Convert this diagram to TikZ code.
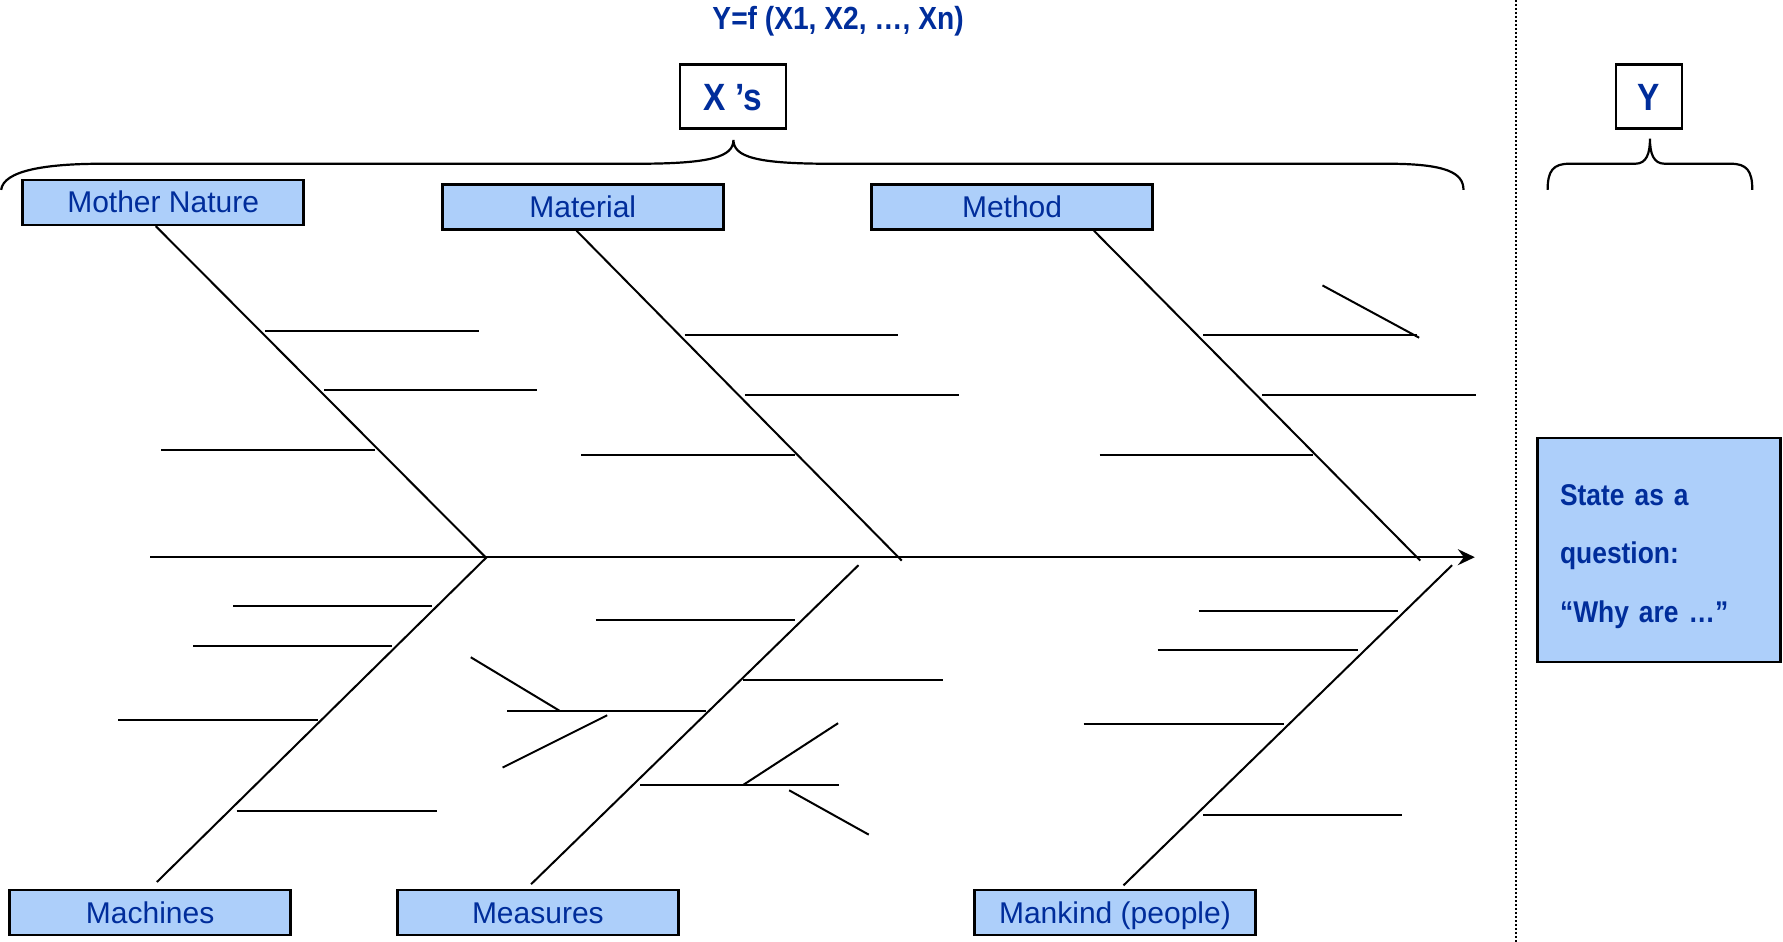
\documentclass[tikz,border=0pt]{standalone}
\usepackage{fontspec}
\setmainfont{Liberation Sans}
\newfontfamily\labfont{Liberation Sans}
\newfontfamily\headfont[FakeStretch=0.88]{Liberation Sans}
\usetikzlibrary{arrows.meta,calc}
\definecolor{textblue}{RGB}{0,45,155}
\definecolor{boxblue}{RGB}{173,207,250}
\tikzset{
  cause/.style={draw, line width=2.5pt, fill=boxblue, text=textblue,
    font=\labfont\fontsize{30}{36}\selectfont, inner sep=0pt,
    minimum width=281pt, minimum height=45pt, text height=26pt, text depth=5pt},
  keybox/.style={draw, line width=2.5pt, fill=white, text=textblue,
    font=\headfont\bfseries\fontsize{38}{44}\selectfont, inner sep=0pt,
    minimum height=64pt, text height=31pt, text depth=4pt},
  statebox/.style={draw, line width=2.5pt, fill=boxblue, text=textblue,
    font=\headfont\bfseries\fontsize{30}{58.5}\selectfont, inner sep=0pt,
    minimum width=243pt, minimum height=224pt, align=left, text width=198pt},
  title/.style={text=textblue, font=\headfont\bfseries\fontsize{32}{38}\selectfont},
  bone/.style={line width=2pt},
  spine/.style={line width=2.5pt, -{Stealth[length=17pt,width=16pt,inset=6pt]}},
  brace/.style={line width=2.2pt},
  divider/.style={line width=2pt, dash pattern=on 2pt off 2pt}
}
\begin{document}
\begin{tikzpicture}[x=1.1371pt, y=-1.1371pt]
\useasboundingbox (0,0) rectangle (1568,828);

% divider between the causes and the effect
\draw[divider] (1333,0) -- (1333,828);

% heading and the two key boxes
\node[title] (fx) at (737,18.5) {Y=f (X1, X2, …, Xn)};
\node[keybox, minimum width=106pt] (xs) at (644.5,85) {X ’s};
\node[keybox, minimum width=66pt] (ys) at (1450,85) {Y};

% braces under the key boxes
\draw[brace] (1,167) .. controls (3,150) and (40,144) .. (90,144) -- (560,144)
  .. controls (625,144) and (645,138) .. (645,123)
  .. controls (645,138) and (665,144) .. (730,144) -- (1220,144)
  .. controls (1272,144) and (1287,152) .. (1287,167);
\draw[brace] (1361,167) .. controls (1361,150) and (1366,144) .. (1380,144) -- (1438,144)
  .. controls (1448,144) and (1451,135) .. (1451,122)
  .. controls (1451,135) and (1454,144) .. (1464,144) -- (1522,144)
  .. controls (1536,144) and (1541,150) .. (1541,167);

% effect box (the strut on the first line sets the text block a little lower)
\node[statebox] (q) at (1459,483.5) {\rule{0pt}{34pt}State as a\\question:\\“Why are …”};

% cause categories
\node[cause] (mn) at (143.5,178) {Mother Nature};
\node[cause] (mt) at (512.5,182) {Material};
\node[cause] (me) at (890,182) {Method};
\node[cause] (mc) at (132,802.5) {Machines};
\node[cause] (ms) at (473,802.5) {Measures};
\node[cause] (mk) at (980.5,802.5) {Mankind (people)};

% spine
\coordinate (s0) at (132,490);
\coordinate (s1) at (1297,490);
\draw[spine] (s0) -- (s1);

% main bones
\coordinate (j1) at (427,490);
\coordinate (j2) at (793,493);
\coordinate (j3) at (1249,493);
\coordinate (j4) at (428,490);
\coordinate (j5) at (755,497);
\coordinate (j6) at (1277,497);
\draw[bone] ($(mn.south)+(-6.5,0)$) -- (j1);
\draw[bone] ($(mt.south)+(-5.5,0)$) -- (j2);
\draw[bone] ($(me.south)+(72,0)$) -- (j3);
\draw[bone] ($(mc.north)+(6,-6)$) -- (j4);
\draw[bone] ($(ms.north)+(-6,-4)$) -- (j5);
\draw[bone] ($(mk.north)+(7.5,-3)$) -- (j6);

% sub-causes above the spine
\foreach \a/\b/\c/\d in {
  233/291/421/291, 285/343/472/343, 142/396/330/396,
  602/295/790/295, 655/347/843/347, 511/400/699/400,
  1058/295/1246/295, 1110/347/1298/347, 967/400/1155/400,
  1163/251/1248/297}
  \draw[bone] (\a,\b) -- (\c,\d);

% sub-causes below the spine
\foreach \a/\b/\c/\d in {
  205/533/380/533, 170/568/345/568, 104/633/280/633, 208/713/384/713,
  524/545/699/545, 653/598/829/598, 446/625/621/625, 563/690/738/690,
  414/578/492/625, 534/629/442/675, 654/690/737/636, 694/695/764/734,
  1054/537/1229/537, 1018/572/1194/572, 953/637/1129/637, 1058/717/1233/717}
  \draw[bone] (\a,\b) -- (\c,\d);
\end{tikzpicture}
\end{document}
